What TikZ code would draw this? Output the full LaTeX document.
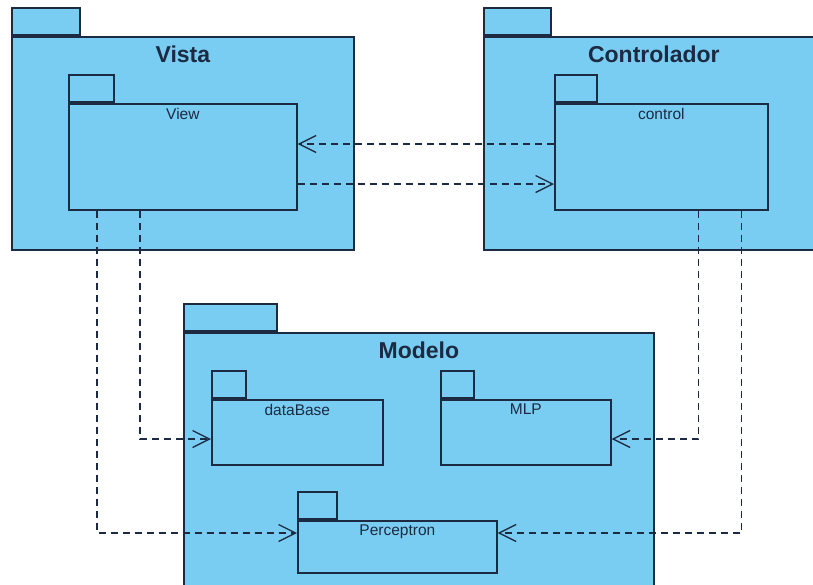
\documentclass[tikz,border=0pt]{standalone}
\usepackage{fontspec}
\setmainfont{Liberation Sans}
\usetikzlibrary{arrows.meta,positioning}
\definecolor{pkgfill}{RGB}{122,205,242}
\definecolor{pkgline}{RGB}{28,42,66}
\tikzstyle{pkg} = [rectangle, draw=pkgline, fill=pkgfill, line width=1.7pt,
    inner sep=0pt, anchor=north west]
\tikzstyle{pkgtab} = [pkg, anchor=south west, minimum height=27pt]
\tikzstyle{pkgtitle} = [font=\fontsize{23}{26}\selectfont\bfseries, text=pkgline, inner sep=0pt]
\tikzstyle{pkgname} = [font=\fontsize{15.5}{18}\selectfont, text=pkgline, inner sep=0pt]
\tikzstyle{dep} = [draw=pkgline, line width=1.3pt, dash pattern=on 7pt off 5pt,
    -{Straight Barb[length=17pt,width=17pt]}]

\begin{document}
\begin{tikzpicture}[x=1pt,y=-1pt]
  \clip (0,0) rectangle (813,584);

  % outer packages
  \node[pkg, minimum width=342pt, minimum height=213pt] (vista) at (11,36) {};
  \node[pkgtab, minimum width=68pt] (vistatab) at (vista.north west) {};
  \node[pkgtitle, below=10pt of vista.north] (vistalbl) {Vista};

  \node[pkg, minimum width=340pt, minimum height=213pt] (ctrl) at (483,36) {};
  \node[pkgtab, minimum width=67pt] (ctrltab) at (ctrl.north west) {};
  \node[pkgtitle, below=10pt of ctrl.north] (ctrllbl) {Controlador};

  \node[pkg, minimum width=470pt, minimum height=280pt] (modelo) at (183,332) {};
  \node[pkgtab, minimum width=93pt] (modelotab) at (modelo.north west) {};
  \node[pkgtitle, below=10pt of modelo.north] (modelolbl) {Modelo};

  % inner packages
  \node[pkg, minimum width=228pt, minimum height=106pt] (view) at (68,103) {};
  \node[pkgtab, minimum width=45pt] (viewtab) at (view.north west) {};
  \node[pkgname, below=5pt of view.north] (viewlbl) {View};

  \node[pkg, minimum width=213pt, minimum height=106pt] (control) at (554,103) {};
  \node[pkgtab, minimum width=42pt] (controltab) at (control.north west) {};
  \node[pkgname, below=5pt of control.north] (controllbl) {control};

  \node[pkg, minimum width=171pt, minimum height=65pt] (database) at (211,399) {};
  \node[pkgtab, minimum width=34pt] (databasetab) at (database.north west) {};
  \node[pkgname, below=5pt of database.north] (databaselbl) {dataBase};

  \node[pkg, minimum width=170pt, minimum height=65pt] (mlp) at (440,399) {};
  \node[pkgtab, minimum width=33pt] (mlptab) at (mlp.north west) {};
  \node[pkgname, below=5pt of mlp.north] (mlplbl) {MLP};

  \node[pkg, minimum width=199pt, minimum height=52pt] (perceptron) at (297,520) {};
  \node[pkgtab, minimum width=39pt] (perceptrontab) at (perceptron.north west) {};
  \node[pkgname, below=5pt of perceptron.north] (perceptronlbl) {Perceptron};

  % dependencies
  \draw[dep] ([yshift=-41pt]control.north west) -- ([yshift=-41pt]view.north east);
  \draw[dep] ([yshift=-81pt]view.north east) -- ([yshift=-81pt]control.north west);
  \draw[dep] ([xshift=29pt]view.south west) |- ([yshift=-13pt]perceptron.north west);
  \draw[dep] ([xshift=72pt]view.south west) |- ([yshift=-40pt]database.north west);
  \draw[dep] ([xshift=-70pt]control.south east) |- ([yshift=-40pt]mlp.north east);
  \draw[dep] ([xshift=-27pt]control.south east) |- ([yshift=-13pt]perceptron.north east);
\end{tikzpicture}
\end{document}
